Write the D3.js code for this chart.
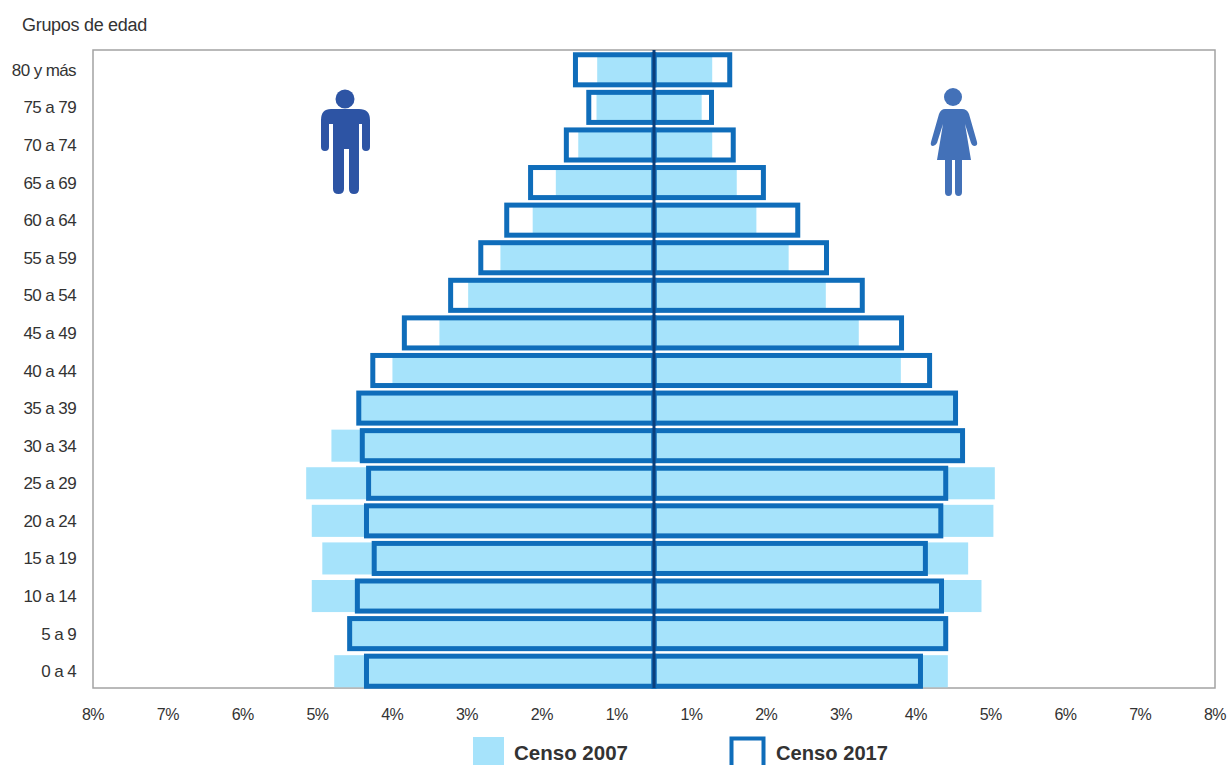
<!DOCTYPE html>
<html>
<head>
<meta charset="utf-8">
<script src="https://cdn.jsdelivr.net/npm/d3@7"></script>
<style>
  html, body { margin: 0; padding: 0; background: #fff; overflow: hidden; }
  text { font-family: "Liberation Sans", Arial, sans-serif; fill: #333; }
</style>
</head>
<body>
<div id="chart"></div>
<script>
const ageGroups = ["80 y más", "75 a 79", "70 a 74", "65 a 69", "60 a 64", "55 a 59", "50 a 54", "45 a 49",
  "40 a 44", "35 a 39", "30 a 34", "25 a 29", "20 a 24", "15 a 19", "10 a 14", "5 a 9", "0 a 4"];

const male2007 = [0.81, 0.82, 1.08, 1.40, 1.73, 2.19, 2.65, 3.06, 3.73, 4.20, 4.60, 4.96, 4.88, 4.73, 4.88, 4.31, 4.56];
const female2007 = [0.83, 0.68, 0.83, 1.18, 1.46, 1.92, 2.45, 2.92, 3.52, 4.28, 4.39, 4.86, 4.84, 4.48, 4.67, 4.14, 4.19];
const male2017 = [1.12, 0.93, 1.25, 1.76, 2.10, 2.47, 2.90, 3.56, 4.01, 4.21, 4.16, 4.07, 4.10, 3.99, 4.23, 4.34, 4.10];
const female2017 = [1.08, 0.82, 1.13, 1.56, 2.05, 2.46, 2.97, 3.53, 3.93, 4.30, 4.40, 4.16, 4.09, 3.87, 4.10, 4.16, 3.80];

// the printed labels sit evenly across the frame, they do not line up with the bar scale
const tickLabels = ["8%", "7%", "6%", "5%", "4%", "3%", "2%", "1%", "1%", "2%", "3%", "4%", "5%", "6%", "7%", "8%"];

const width = 1227, height = 765;
const frame = { left: 93, right: 1215, top: 50, bottom: 688 };

const svg = d3.select("#chart").append("svg")
  .attr("width", width)
  .attr("height", height);

const x = d3.scaleLinear().domain([-8, 8]).range([frame.left, frame.right]);
const y = d3.scaleBand().domain(ageGroups).range([51, 690]).paddingInner(0.2).paddingOuter(0.1);

const barH2007 = y.bandwidth() + 2;
const barH2017 = y.bandwidth();

function drawBars(values, sign, cls) {
  return svg.selectAll("rect." + cls)
    .data(values)
    .enter()
    .append("rect")
    .attr("class", cls)
    .attr("x", d => sign < 0 ? x(-d) : x(0))
    .attr("width", d => x(d) - x(0));
}

// frame
svg.append("rect")
  .attr("x", frame.left)
  .attr("y", frame.top)
  .attr("width", frame.right - frame.left)
  .attr("height", frame.bottom - frame.top)
  .attr("fill", "#fff")
  .attr("stroke", "#a3a3a3")
  .attr("stroke-width", 1.5);

// censo 2007, light bars
[[male2007, -1, "m07"], [female2007, 1, "f07"]].forEach(s => {
  drawBars(s[0], s[1], s[2])
    .attr("y", (d, i) => y(ageGroups[i]) - 1)
    .attr("height", barH2007)
    .attr("fill", "#a6e3fb");
});

// censo 2017, outlined bars
[[male2017, -1, "m17"], [female2017, 1, "f17"]].forEach(s => {
  drawBars(s[0], s[1], s[2])
    .attr("y", (d, i) => y(ageGroups[i]))
    .attr("height", barH2017)
    .attr("fill", "none")
    .attr("stroke", "#0f6dba")
    .attr("stroke-width", 5);
});

// centre line
svg.append("line")
  .attr("x1", x(0)).attr("x2", x(0))
  .attr("y1", frame.top).attr("y2", frame.bottom)
  .attr("stroke", "#0b3f7c")
  .attr("stroke-width", 3);

// age labels
svg.selectAll("text.age")
  .data(ageGroups)
  .enter()
  .append("text")
  .attr("class", "age")
  .attr("x", 76)
  .attr("y", d => y(d) + y.bandwidth() / 2 + 6)
  .attr("text-anchor", "end")
  .attr("font-size", 17)
  .attr("letter-spacing", -0.6)
  .text(d => d);

svg.append("text")
  .attr("x", 22)
  .attr("y", 31)
  .attr("font-size", 18)
  .attr("letter-spacing", -0.3)
  .text("Grupos de edad");

// percent labels
const xLabels = d3.scalePoint().domain(d3.range(tickLabels.length)).range([frame.left, frame.right]);
svg.selectAll("text.tick")
  .data(tickLabels)
  .enter()
  .append("text")
  .attr("class", "tick")
  .attr("x", (d, i) => xLabels(i))
  .attr("y", 720)
  .attr("text-anchor", "middle")
  .attr("font-size", 16)
  .attr("letter-spacing", -0.6)
  .text(d => d);

// legend
svg.append("rect")
  .attr("x", 473).attr("y", 737)
  .attr("width", 31).attr("height", 30)
  .attr("fill", "#a6e3fb");
svg.append("text")
  .attr("x", 514).attr("y", 760)
  .attr("font-size", 21)
  .attr("font-weight", "bold")
  .attr("textLength", 114)
  .attr("lengthAdjust", "spacingAndGlyphs")
  .text("Censo 2007");
svg.append("rect")
  .attr("x", 731.5).attr("y", 738.5)
  .attr("width", 32).attr("height", 32)
  .attr("fill", "none")
  .attr("stroke", "#0f6dba")
  .attr("stroke-width", 4);
svg.append("text")
  .attr("x", 776).attr("y", 760)
  .attr("font-size", 21)
  .attr("font-weight", "bold")
  .attr("textLength", 112)
  .attr("lengthAdjust", "spacingAndGlyphs")
  .text("Censo 2017");

// man icon
const man = svg.append("g").attr("fill", "#2d54a4").attr("transform", "translate(345,0)");
man.append("circle").attr("cx", 0).attr("cy", 99).attr("r", 9.5);
man.append("path").attr("d",
  "M-14 109 H14 Q25 109 25 120 V147 Q25 151 21 151 Q17 151 17 147 V124 H14 V189 Q14 194 9 194 Q4 194 4 189 V149 H-1 V189 Q-1 194 -6.5 194 Q-12 194 -12 189 V124 H-16 V147 Q-16 151 -20 151 Q-24 151 -24 147 V120 Q-24 109 -14 109 Z");

// woman icon
const woman = svg.append("g").attr("fill", "#4371b8").attr("transform", "translate(953,0)");
woman.append("circle").attr("cx", 0).attr("cy", 97).attr("r", 9);
woman.append("path").attr("d",
  "M-8 109 H9 Q14 109 16 114 L24 142 Q25 146 21 146 Q19 146 18 143 L12 124 L18 160 H9 V192 Q9 196 5.5 196 Q2 196 2 192 V160 H-1 V192 Q-1 196 -4.5 196 Q-8 196 -8 192 V160 H-16 L-10 124 L-16 143 Q-18 146 -20 146 Q-23 146 -22 142 L-14 114 Q-12 109 -8 109 Z");
</script>
</body>
</html>
